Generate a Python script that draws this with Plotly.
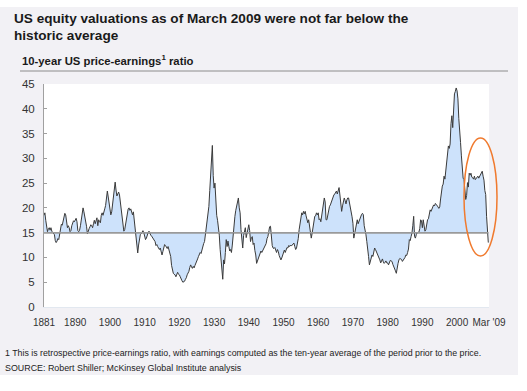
import plotly.graph_objects as go

# 10-year (cyclically adjusted) US P/E ratio, quarterly from 1881 Q1 to 2009 Q1
start_year = 1881
pe_quarterly = [
    18.5, 19.0, 17.5, 16.0,  # 1881
    15.2, 15.8, 16.0, 15.5,  # 1882
    16.0, 15.3, 15.0, 14.8,  # 1883
    14.6, 13.4, 13.0, 13.3,  # 1884
    13.8, 13.6, 14.8, 16.2,  # 1885
    16.7, 16.5, 17.4, 18.2,  # 1886
    18.9, 18.6, 17.2, 16.0,  # 1887
    16.4, 16.0, 15.2, 15.4,  # 1888
    16.4, 17.0, 17.4, 17.2,  # 1889
    17.6, 17.9, 17.2, 15.4,  # 1890
    15.2, 15.5, 16.4, 17.8,  # 1891
    19.2, 20.0, 19.2, 18.4,  # 1892
    17.8, 16.3, 14.8, 15.6,  # 1893
    15.8, 16.2, 16.6, 16.4,  # 1894
    16.0, 16.8, 17.5, 16.8,  # 1895
    17.5, 18.0, 16.4, 17.6,  # 1896
    17.2, 17.0, 18.5, 19.0,  # 1897
    18.5, 19.5, 19.8, 20.5,  # 1898
    21.8, 23.4, 22.2, 20.8,  # 1899
    19.3, 18.6, 19.2, 20.6,  # 1900
    22.0, 23.8, 25.2, 23.6,  # 1901
    22.4, 22.8, 23.2, 22.6,  # 1902
    21.0, 19.2, 17.2, 16.0,  # 1903
    15.3, 15.6, 16.8, 18.2,  # 1904
    19.2, 19.8, 20.0, 19.5,  # 1905
    19.8, 19.0, 18.6, 19.2,  # 1906
    17.6, 15.8, 14.6, 12.2,  # 1907
    10.9, 12.5, 13.8, 14.6,  # 1908
    14.8, 15.2, 15.4, 15.0,  # 1909
    14.4, 13.6, 13.9, 14.6,  # 1910
    15.0, 15.3, 14.6, 14.5,  # 1911
    14.3, 14.0, 13.9, 13.5,  # 1912
    13.2, 12.4, 12.6, 12.2,  # 1913
    12.0, 11.6, 11.9, 11.2,  # 1914
    10.5, 11.2, 11.9, 12.6,  # 1915
    12.4, 12.1, 11.8, 12.2,  # 1916
    11.5, 10.6, 10.2, 8.4,   # 1917
    7.2, 6.8, 6.6, 6.5,      # 1918
    6.1, 6.8, 7.0, 6.6,      # 1919
    6.5, 6.1, 5.5, 5.3,      # 1920
    5.0, 5.1, 5.2, 5.6,      # 1921
    5.9, 6.5, 6.9, 7.2,      # 1922
    8.0, 8.5, 8.1, 7.8,      # 1923
    8.2, 7.9, 8.4, 9.0,      # 1924
    9.5, 9.7, 10.2, 10.9,    # 1925
    11.0, 10.8, 11.6, 12.4,  # 1926
    12.8, 13.2, 14.6, 15.8,  # 1927
    16.6, 18.2, 20.3, 23.5,  # 1928
    26.5, 28.0, 32.6, 26.5,  # 1929
    24.0, 25.0, 21.0, 18.5,  # 1930
    17.5, 16.3, 14.5, 11.6,  # 1931
    9.5, 7.0, 5.6, 9.5,      # 1932
    8.7, 11.0, 13.6, 12.2,   # 1933
    13.3, 12.2, 11.3, 11.6,  # 1934
    11.0, 12.5, 14.8, 17.0,  # 1935
    18.3, 19.5, 20.5, 21.4,  # 1936
    22.0, 20.0, 19.0, 15.6,  # 1937
    12.5, 11.9, 14.4, 15.5,  # 1938
    16.0, 14.0, 14.8, 15.2,  # 1939
    16.6, 15.4, 13.2, 14.0,  # 1940
    14.2, 12.6, 12.9, 11.4,  # 1941
    10.5, 8.8, 9.4, 9.6,     # 1942
    10.4, 11.2, 11.3, 11.0,  # 1943
    11.3, 11.8, 12.2, 12.4,  # 1944
    12.8, 13.8, 14.2, 15.2,  # 1945
    16.2, 16.3, 14.0, 12.4,  # 1946
    11.9, 11.8, 12.0, 11.5,  # 1947
    11.0, 11.6, 11.2, 10.4,  # 1948
    10.0, 9.5, 9.9, 10.6,    # 1949
    10.8, 11.5, 11.0, 11.4,  # 1950
    12.0, 11.9, 12.4, 12.2,  # 1951
    12.5, 12.3, 12.6, 12.8,  # 1952
    12.9, 12.2, 11.6, 11.9,  # 1953
    12.6, 13.8, 15.6, 16.8,  # 1954
    17.8, 19.0, 18.6, 19.3,  # 1955
    18.8, 19.3, 18.4, 17.9,  # 1956
    17.0, 17.6, 16.0, 14.2,  # 1957
    13.9, 14.9, 16.2, 17.6,  # 1958
    18.3, 18.4, 19.0, 18.6,  # 1959
    19.0, 17.6, 17.8, 17.2,  # 1960
    18.6, 20.3, 21.0, 22.0,  # 1961
    21.2, 17.6, 17.6, 18.8,  # 1962
    19.3, 20.3, 20.6, 21.2,  # 1963
    21.7, 22.4, 22.6, 22.8,  # 1964
    23.2, 23.4, 22.8, 23.6,  # 1965
    24.1, 22.6, 20.0, 19.3,  # 1966
    20.4, 21.4, 22.0, 21.5,  # 1967
    20.8, 21.6, 22.0, 22.0,  # 1968
    21.0, 20.8, 19.7, 18.2,  # 1969
    16.9, 13.9, 14.8, 15.8,  # 1970
    16.8, 17.6, 16.8, 17.3,  # 1971
    18.0, 18.4, 18.7, 18.9,  # 1972
    18.6, 16.4, 15.6, 14.6,  # 1973
    13.2, 12.0, 10.2, 8.5,   # 1974
    9.2, 10.4, 10.5, 10.2,   # 1975
    11.0, 11.9, 11.6, 11.2,  # 1976
    11.0, 10.4, 10.0, 9.5,   # 1977
    8.9, 9.4, 9.7, 9.1,      # 1978
    8.8, 9.0, 9.3, 8.9,      # 1979
    8.9, 8.5, 9.0, 9.4,      # 1980
    9.3, 9.2, 8.6, 8.0,      # 1981
    7.6, 7.3, 6.8, 8.2,      # 1982
    8.8, 9.5, 9.8, 9.7,      # 1983
    9.6, 9.2, 9.4, 9.6,      # 1984
    10.0, 10.5, 10.4, 11.0,  # 1985
    11.7, 13.6, 13.4, 14.2,  # 1986
    14.9, 16.4, 18.3, 14.2,  # 1987
    13.9, 14.6, 15.0, 15.0,  # 1988
    15.1, 15.8, 17.6, 17.4,  # 1989
    16.0, 17.6, 16.4, 15.3,  # 1990
    15.6, 17.0, 17.6, 17.8,  # 1991
    19.0, 19.6, 19.3, 19.8,  # 1992
    20.3, 20.6, 20.4, 20.9,  # 1993
    20.7, 20.3, 20.2, 19.9,  # 1994
    20.2, 21.8, 23.7, 24.4,  # 1995
    24.8, 26.4, 25.8, 27.6,  # 1996
    28.3, 30.0, 32.5, 32.0,  # 1997
    32.9, 37.0, 38.6, 36.2,  # 1998
    40.6, 43.0, 43.5, 44.2,  # 1999
    43.6, 42.0, 38.0, 36.2,  # 2000
    33.2, 30.5, 27.1, 26.0,  # 2001
    25.7, 24.0, 21.7, 22.5,  # 2002
    25.1, 24.2, 27.0, 26.6,  # 2003
    27.0, 26.2, 26.1, 25.8,  # 2004
    26.4, 25.7, 25.9, 26.0,  # 2005
    26.4, 26.0, 26.4, 26.8,  # 2006
    27.2, 27.4, 26.4, 25.6,  # 2007
    23.5, 22.7, 18.3, 14.2,  # 2008
    13.0,                    # 2009 Q1
]
historic_average = 15
tick_years = [1881, 1890, 1900, 1910, 1920, 1930, 1940, 1950, 1960, 1970, 1980, 1990, 2000, 2009.2]
tick_labels = ["1881", "1890", "1900", "1910", "1920", "1930", "1940", "1950", "1960",
               "1970", "1980", "1990", "2000", "Mar '09"]
y_ticks = [0, 5, 10, 15, 20, 25, 30, 35, 40, 45]

x_dates = [start_year + i * 0.25 for i in range(len(pe_quarterly))]
x_end = 2009.2

FONT = "Arial, Liberation Sans, sans-serif"
BG = "#f2f1f5"

fig = go.Figure()
fig.add_trace(go.Scatter(x=[start_year, x_dates[-1]], y=[historic_average] * 2, mode="lines",
                         line=dict(color="#9a9a9a", width=1.5), hoverinfo="skip", showlegend=False))
fig.add_trace(go.Scatter(x=x_dates, y=pe_quarterly, mode="lines", fill="tonexty",
                         fillcolor="#cde2fb", line=dict(color="#3a3a3a", width=1),
                         showlegend=False))
fig.add_trace(go.Scatter(x=[start_year, x_dates[-1]], y=[historic_average] * 2, mode="lines",
                         line=dict(color="#9a9a9a", width=1.5), hoverinfo="skip", showlegend=False))

L, R, T, B = 44, 38, 84, 84
W, H = 527, 391
pw, ph = W - L - R, H - T - B

def px(xp):
    return (xp - L) / pw

def py(yp):
    return (H - B - yp) / ph

shapes = [
    # white outer borders
    dict(type="rect", xref="paper", yref="paper", x0=px(-5), x1=px(W + 5), y0=py(7), y1=py(-5),
         fillcolor="white", line=dict(width=0), layer="above"),
    dict(type="rect", xref="paper", yref="paper", x0=px(518), x1=px(W + 5), y0=py(H + 5), y1=py(-5),
         fillcolor="white", line=dict(width=0), layer="above"),
    dict(type="rect", xref="paper", yref="paper", x0=px(-5), x1=px(W + 5), y0=py(H + 5), y1=py(375),
         fillcolor="white", line=dict(width=0), layer="above"),
    # rule under subtitle
    dict(type="line", xref="paper", yref="paper", x0=px(20), x1=px(508), y0=py(71), y1=py(71),
         line=dict(color="#8c8c8c", width=1)),
    # orange ellipse
    dict(type="circle", xref="paper", yref="paper", x0=px(464), x1=px(497), y0=py(256), y1=py(138),
         line=dict(color="#f07a2e", width=1.5), layer="above"),
]

annotations = [
    dict(text="<b>US equity valuations as of March 2009 were not far below the</b>", x=px(12), y=py(18),
         xref="paper", yref="paper", xanchor="left", yanchor="middle", showarrow=False,
         font=dict(family=FONT, size=13.6, color="#1a1a1a")),
    dict(text="<b>historic average</b>", x=px(12), y=py(35),
         xref="paper", yref="paper", xanchor="left", yanchor="middle", showarrow=False,
         font=dict(family=FONT, size=13.6, color="#1a1a1a")),
    dict(text="<b>10-year US price-earnings<sup>1</sup> ratio</b>", x=px(20), y=py(60),
         xref="paper", yref="paper", xanchor="left", yanchor="middle", showarrow=False,
         font=dict(family=FONT, size=11.3, color="#1a1a1a")),
    dict(text="1 This is retrospective price-earnings ratio, with earnings computed as the ten-year average of the period prior to the price.",
         x=px(3), y=py(353), xref="paper", yref="paper", xanchor="left", yanchor="middle",
         showarrow=False, font=dict(family=FONT, size=8.8, color="#222")),
    dict(text="SOURCE: Robert Shiller; McKinsey Global Institute analysis",
         x=px(3), y=py(368), xref="paper", yref="paper", xanchor="left", yanchor="middle",
         showarrow=False, font=dict(family=FONT, size=8.9, color="#222")),
]

fig.update_layout(
    width=W, height=H,
    margin=dict(l=L, r=R, t=T, b=B, pad=0),
    paper_bgcolor=BG, plot_bgcolor="white",
    font=dict(family=FONT, color="#333"),
    showlegend=False,
    shapes=shapes,
    annotations=annotations,
    xaxis=dict(range=[start_year, x_end], tickvals=tick_years, ticktext=tick_labels,
               showgrid=False, zeroline=False, showline=True, linecolor="#e2e8f0", linewidth=1,
               ticks="", tickfont=dict(size=10, color="#333"), ticklabelstandoff=6),
    yaxis=dict(range=[0, 45], tickvals=y_ticks, showgrid=False, zeroline=False,
               showline=True, linecolor="#a0a0a0", linewidth=1,
               ticks="inside", ticklen=3, tickcolor="#a0a0a0",
               tickfont=dict(size=11.5, color="#333"), ticklabelstandoff=6),
)

fig.write_html("out.html", config={"displayModeBar": False},
               post_script="document.body.style.margin='0';")
